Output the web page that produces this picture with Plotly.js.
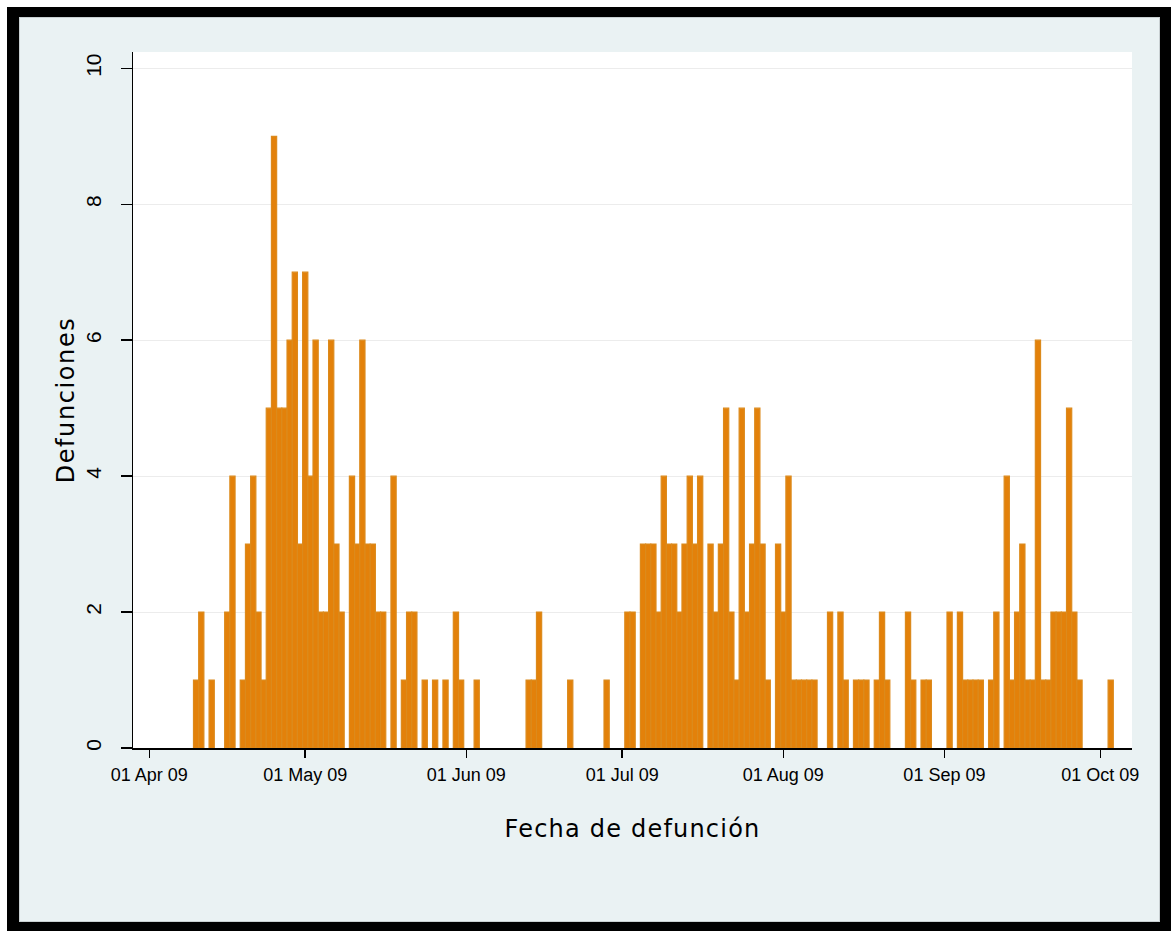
<!DOCTYPE html>
<html>
<head>
<meta charset="utf-8">
<script src="https://cdn.plot.ly/plotly-3.0.1.min.js"></script>
<style>
  html, body { margin: 0; padding: 0; background: #ffffff; }
  #frame {
    position: absolute; left: 7px; top: 7px;
    width: 1141px; height: 905px;
    border-style: solid; border-color: #000000;
    border-width: 10px 11px 9px 12px;
    background: #eaf2f3;
    box-shadow: inset 0 0 0 1px #c9d0d2;
  }
  #chart { position: absolute; left: 0; top: 0; width: 1171px; height: 931px; }
  /* títulos de ejes con letras algo espaciadas */
  #chart .xtitle { letter-spacing: 1.2px; }
  #chart .ytitle { letter-spacing: 1.6px; }
</style>
</head>
<body>
<div id="frame"></div>
<div id="chart"></div>
<script>
// Defunciones diarias por fecha de defunción (días sin defunciones se omiten)
const fechas = [
  '2009-04-10','2009-04-11','2009-04-13','2009-04-16','2009-04-17','2009-04-19',
  '2009-04-20','2009-04-21','2009-04-22','2009-04-23','2009-04-24','2009-04-25',
  '2009-04-26','2009-04-27','2009-04-28','2009-04-29','2009-04-30',
  '2009-05-01','2009-05-02','2009-05-03','2009-05-04','2009-05-05','2009-05-06',
  '2009-05-07','2009-05-08','2009-05-10','2009-05-11','2009-05-12','2009-05-13',
  '2009-05-14','2009-05-15','2009-05-16','2009-05-18','2009-05-20','2009-05-21',
  '2009-05-22','2009-05-24','2009-05-26','2009-05-28','2009-05-30','2009-05-31',
  '2009-06-03','2009-06-13','2009-06-14','2009-06-15','2009-06-21','2009-06-28',
  '2009-07-02','2009-07-03','2009-07-05','2009-07-06','2009-07-07','2009-07-08',
  '2009-07-09','2009-07-10','2009-07-11','2009-07-12','2009-07-13','2009-07-14',
  '2009-07-15','2009-07-16','2009-07-18','2009-07-19','2009-07-20','2009-07-21',
  '2009-07-22','2009-07-23','2009-07-24','2009-07-25','2009-07-26','2009-07-27',
  '2009-07-28','2009-07-29','2009-07-31',
  '2009-08-01','2009-08-02','2009-08-03','2009-08-04','2009-08-05','2009-08-06',
  '2009-08-07','2009-08-10','2009-08-12','2009-08-13','2009-08-15','2009-08-16',
  '2009-08-17','2009-08-19','2009-08-20','2009-08-21','2009-08-25','2009-08-26',
  '2009-08-28','2009-08-29',
  '2009-09-02','2009-09-04','2009-09-05','2009-09-06','2009-09-07','2009-09-08',
  '2009-09-10','2009-09-11','2009-09-13','2009-09-14','2009-09-15','2009-09-16',
  '2009-09-17','2009-09-18','2009-09-19','2009-09-20','2009-09-21','2009-09-22',
  '2009-09-23','2009-09-24','2009-09-25','2009-09-26','2009-09-27',
  '2009-10-03'
];
const defunciones = [
  1,2,1,2,4,1,
  3,4,2,1,5,9,
  5,5,6,7,3,
  7,4,6,2,2,6,
  3,2,4,3,6,3,
  3,2,2,4,1,2,
  2,1,1,1,2,1,
  1,1,1,2,1,1,
  2,2,3,3,3,2,
  4,3,3,2,3,4,
  3,4,3,2,3,5,
  2,1,5,2,3,5,
  3,1,3,
  2,4,1,1,1,1,
  1,2,2,1,1,1,
  1,1,2,1,2,1,
  1,1,
  2,2,1,1,1,1,
  1,2,4,1,2,3,
  1,1,6,1,1,2,
  2,2,5,2,1,
  1
];

// Marcas del eje X (primer día de cada mes) y del eje Y
const marcasFecha = ['2009-04-01','2009-05-01','2009-06-01','2009-07-01','2009-08-01','2009-09-01','2009-10-01'];
const etiquetasFecha = ['01 Apr 09','01 May 09','01 Jun 09','01 Jul 09','01 Aug 09','01 Sep 09','01 Oct 09'];
const marcasY = [0, 2, 4, 6, 8, 10];

const UN_DIA = 24 * 3600 * 1000;

const traza = {
  type: 'bar',
  x: fechas,
  y: defunciones,
  width: UN_DIA,
  marker: { color: '#e3810a', line: { color: '#dc8a1c', width: 1.2 } },
  hoverinfo: 'x+y'
};

const layout = {
  width: 1171,
  height: 931,
  margin: { l: 133, r: 39, t: 52, b: 183 },
  paper_bgcolor: 'rgba(0,0,0,0)',
  plot_bgcolor: '#ffffff',
  showlegend: false,
  bargap: 0,
  xaxis: {
    type: 'date',
    range: ['2009-03-28 20:38', '2009-10-07 02:24'],
    tickvals: marcasFecha,
    ticktext: etiquetasFecha,
    ticks: 'outside',
    ticklen: 8,
    tickwidth: 1.5,
    tickcolor: '#000000',
    ticklabelstandoff: 2,
    showline: true,
    linecolor: '#000000',
    linewidth: 1.5,
    showgrid: false,
    zeroline: false,
    tickfont: { family: 'Liberation Sans Narrow, Arial Narrow, sans-serif', size: 18, color: '#000000' },
    title: {
      text: 'Fecha de defunción',
      font: { family: 'DejaVu Sans, sans-serif', size: 24, color: '#000000' },
      standoff: 36
    }
  },
  yaxis: {
    range: [0, 10.24],
    tickvals: marcasY,
    ticks: 'outside',
    ticklen: 11,
    tickwidth: 1.5,
    tickcolor: '#000000',
    tickangle: -90,
    ticklabelstandoff: 11,
    showline: true,
    linecolor: '#000000',
    linewidth: 1.5,
    showgrid: true,
    gridcolor: '#ececec',
    gridwidth: 1,
    zeroline: false,
    tickfont: { family: 'Liberation Sans, Arial, sans-serif', size: 21, color: '#000000' },
    title: {
      text: 'Defunciones',
      font: { family: 'DejaVu Sans, sans-serif', size: 24, color: '#000000' },
      standoff: 0
    }
  }
};

Plotly.newPlot('chart', [traza], layout, { displayModeBar: false, staticPlot: true });
</script>
</body>
</html>
